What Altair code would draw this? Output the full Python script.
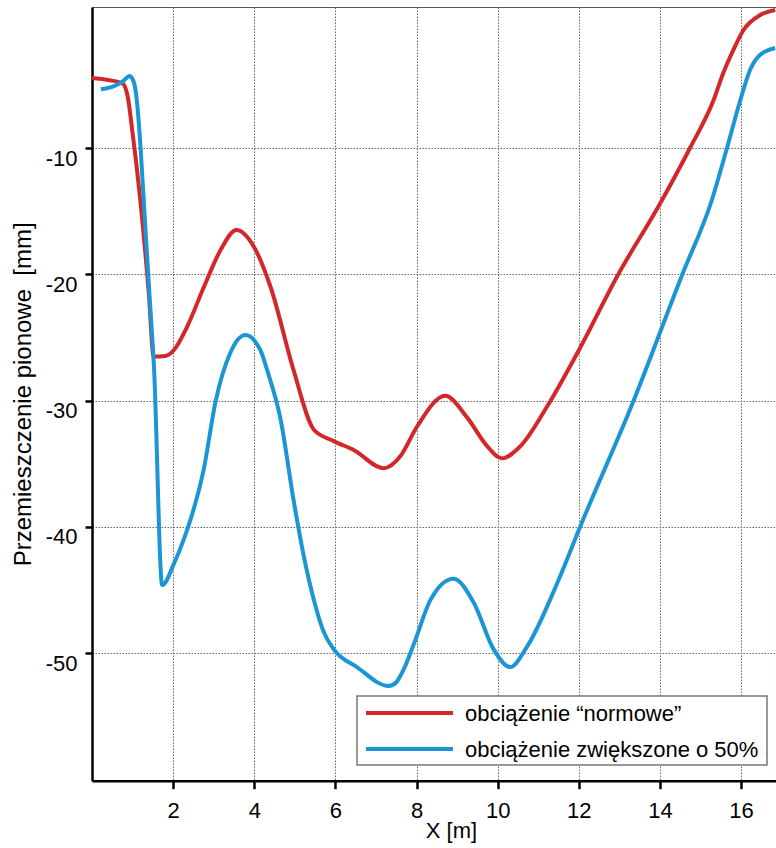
import altair as alt
import pandas as pd

# --- data ---
red_label = "obciążenie “normowe”"
blue_label = "obciążenie zwiększone o 50%"
series_labels = [red_label, blue_label]
series_colors = ["#d2282a", "#1b95d3"]

red_x = [0.0, 0.4, 0.75, 0.88, 1.0, 1.155, 1.40, 1.52, 1.81, 2.02, 2.35, 2.76, 3.17, 3.56, 3.99,
         4.40, 4.97, 5.47, 5.96, 6.45, 7.19, 7.6, 8.01, 8.71, 9.24, 9.74, 10.1, 10.56, 11.21,
         12.0, 12.97, 14.0, 14.74, 15.32, 15.56, 15.81, 16.06, 16.47, 16.84]
red_y = [-4.44, -4.6, -4.86, -5.9, -8.8, -13.05, -21.5, -26.5, -26.45, -25.98, -24.1, -20.97, -18.06,
         -16.48, -17.8, -20.97, -27.6, -32.3, -33.2, -33.9, -35.35, -34.4, -32.06, -29.6, -31.3,
         -33.6, -34.56, -33.6, -30.5, -26.0, -20.0, -14.4, -9.98, -6.2, -4.04, -2.2, -0.63, 0.55, 0.95]

blue_x = [0.22, 0.51, 0.75, 0.93, 1.04, 1.12, 1.2, 1.3, 1.42, 1.53, 1.73, 2.02, 2.26, 2.43, 2.75,
          3.05, 3.41, 3.78, 4.15, 4.32, 4.65, 4.97, 5.22, 5.47, 5.71, 5.96, 6.53, 7.31, 7.5, 7.68,
          7.93, 8.34, 8.91, 9.41, 9.9, 10.31, 10.72, 11.5, 12.03, 13.35, 14.55, 15.28, 15.65,
          15.98, 16.22, 16.47, 16.84]
blue_y = [-5.33, -5.12, -4.73, -4.28, -4.86, -6.7, -10.1, -15.5, -21.8, -27.5, -44.6, -42.9, -41.0,
          -39.4, -35.5, -30.0, -26.2, -24.8, -26.0, -27.6, -31.5, -37.9, -42.3, -45.8, -48.3,
          -49.7, -51.1, -52.6, -52.3, -51.3, -49.3, -45.8, -44.1, -46.0, -49.7, -51.1, -49.5, -44.2,
          -40.0, -30.0, -20.0, -14.1, -10.0, -6.2, -3.8, -2.6, -2.06]

x_ticks = [2, 4, 6, 8, 10, 12, 14, 16]
y_ticks = [-10, -20, -30, -40, -50]

df = pd.concat([
    pd.DataFrame({"x": red_x, "y": red_y, "seria": red_label, "o": range(len(red_x))}),
    pd.DataFrame({"x": blue_x, "y": blue_y, "seria": blue_label, "o": range(len(blue_x))}),
])
legend_df = pd.DataFrame({"seria": series_labels})

FONT = "Liberation Sans"
color_scale = alt.Scale(domain=series_labels, range=series_colors)

lines = alt.Chart(df).mark_line(strokeWidth=4, interpolate="monotone", clip=True).encode(
    x=alt.X("x:Q",
            scale=alt.Scale(domain=[0, 16.86], nice=False, zero=False),
            axis=alt.Axis(values=x_ticks, title="X [m]", titleX=359, titleY=40,
                          titleBaseline="top", titleAlign="center",
                          labelPadding=12, tickSize=8)),
    y=alt.Y("y:Q",
            scale=alt.Scale(domain=[-60.1, 1.19], nice=False, zero=False),
            axis=alt.Axis(values=y_ticks, title="Przemieszczenie pionowe\u00a0 [mm]",
                          labelExpr="'' + datum.value", titleFontSize=24,
                          labelBaseline="top", labelPadding=8, tickSize=7, titlePadding=10)),
    color=alt.Color("seria:N", scale=color_scale, legend=None),
    order="o:Q",
)

# manual legend box (positions in pixels of the plot area)
box = alt.Chart(legend_df).transform_filter(alt.datum.seria == red_label).mark_rect(
    fill="white", stroke="#777", strokeWidth=1.5
).encode(x=alt.value(265), x2=alt.value(675), y=alt.value(689), y2=alt.value(758))

legend_layers = []
for lab, ypx in zip(series_labels, [706, 742]):
    base = alt.Chart(legend_df).transform_filter(alt.datum.seria == lab)
    legend_layers.append(base.mark_rule(strokeWidth=4).encode(
        x=alt.value(274), x2=alt.value(361), y=alt.value(ypx),
        color=alt.Color("seria:N", scale=color_scale, legend=None)))
    legend_layers.append(base.mark_text(align="left", baseline="middle", font=FONT,
                                        fontSize=22, color="black").encode(
        x=alt.value(373), y=alt.value(ypx + 1), text="seria:N"))

chart = alt.layer(lines, box, *legend_layers).properties(
    width=684, height=773.7,
    autosize=alt.AutoSizeParams(type="none"),
    padding={"left": 92, "top": 7, "right": 0, "bottom": 68},
    background="white",
).configure_view(
    stroke="#555", strokeWidth=1
).configure_axis(
    domainColor="black", domainWidth=2.5, tickColor="black", tickWidth=2.5,
    labelFont=FONT, labelFontSize=22, labelColor="black",
    titleFont=FONT, titleFontSize=22, titleFontWeight="normal", titleColor="black",
    gridColor="#666", gridDash=[1.5, 1.5], gridWidth=1,
)

chart.save("out.html", embed_options={"renderer": "svg", "actions": False})
